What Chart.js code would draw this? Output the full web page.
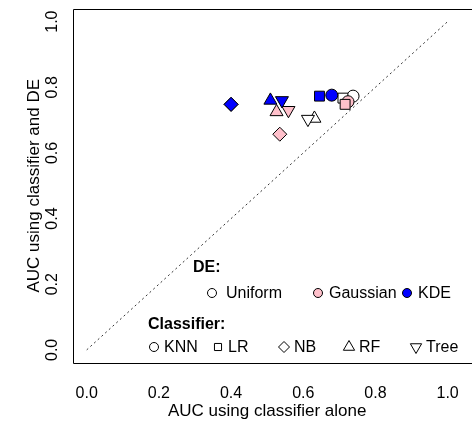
<!DOCTYPE html>
<html>
<head>
<meta charset="utf-8">
<script src="https://cdn.jsdelivr.net/npm/chart.js@4/dist/chart.umd.min.js"></script>
<style>
    html, body { margin: 0; padding: 0; background: #fff; }
    #aucChart { display: block; }
</style>
</head>
<body>
<canvas id="aucChart" width="472" height="423"></canvas>
<script>
// Data, one value per classifier
const classifiers = ['KNN', 'LR', 'NB', 'RF', 'Tree'];
const deNames = ['Uniform', 'Gaussian', 'KDE'];

const uniformAlone   = [0.738, 0.710, 0.400, 0.631, 0.613];
const uniformWithDE  = [0.773, 0.767, 0.748, 0.705, 0.703];
const gaussianAlone  = [0.724, 0.716, 0.535, 0.526, 0.559];
const gaussianWithDE = [0.756, 0.748, 0.657, 0.725, 0.730];
const kdeAlone       = [0.679, 0.645, 0.400, 0.509, 0.541];
const kdeWithDE      = [0.776, 0.773, 0.748, 0.760, 0.760];

const xTickValues = [0, 0.2, 0.4, 0.6, 0.8, 1.0];
const yTickValues = [0, 0.2, 0.4, 0.6, 0.8, 1.0];
const diagonal = [0, 1];

// Marker look per classifier / DE
const markerStyles = ['circle', 'rect', 'rectRot', 'triangle', 'triangle'];
const markerRotation = [0, 0, 0, 0, 180];
const markerRadius = [6, 7, 7, 7.5, 7.5];
const deColors = ['#ffffff', '#ffc0cb', '#0000ff'];

const FONT = "'Liberation Sans', Arial, Helvetica, sans-serif";

const toPoints = (xs, ys) => xs.map((v, i) => ({ x: v, y: ys[i] }));

const makeDataset = (label, xs, ys, color, order) => ({
    label: label,
    data: toPoints(xs, ys),
    backgroundColor: color,
    borderColor: '#000',
    borderWidth: 1,
    pointStyle: markerStyles,
    rotation: markerRotation,
    pointRadius: markerRadius,
    pointHoverRadius: markerRadius,
    order: order
});

// Draw a marker the same way Chart.js draws its points
const drawMarker = (ctx, style, x, y, r, rot, fill) => {
    ctx.fillStyle = fill;
    ctx.strokeStyle = '#000';
    ctx.lineWidth = 1;
    if (Chart.helpers && Chart.helpers.drawPoint) {
        Chart.helpers.drawPoint(ctx, { pointStyle: style, radius: r, rotation: rot, borderWidth: 1 }, x, y);
    } else {
        ctx.beginPath();
        ctx.arc(x, y, r, 0, Math.PI * 2);
        ctx.fill();
        ctx.stroke();
    }
};

const frameAndText = {
    id: 'frameAndText',
    afterDraw(chart) {
        const { ctx, chartArea: a, scales } = chart;
        ctx.save();

        // plot box (right edge falls outside the picture)
        ctx.strokeStyle = '#000';
        ctx.lineWidth = 1;
        ctx.beginPath();
        ctx.moveTo(chart.width, Math.round(a.top) + 0.5);
        ctx.lineTo(Math.round(a.left) + 0.5, Math.round(a.top) + 0.5);
        ctx.lineTo(Math.round(a.left) + 0.5, Math.round(a.bottom) + 0.5);
        ctx.lineTo(chart.width, Math.round(a.bottom) + 0.5);
        ctx.stroke();

        ctx.fillStyle = '#000';
        ctx.font = '16px ' + FONT;
        ctx.textAlign = 'center';
        ctx.textBaseline = 'middle';

        // y tick labels, rotated like R does
        yTickValues.forEach(v => {
            const py = scales.y.getPixelForValue(v);
            ctx.save();
            ctx.translate(53, py);
            ctx.rotate(-Math.PI / 2);
            ctx.fillText(v.toFixed(1), 0, 0);
            ctx.restore();
        });

        // axis titles, centred on the full 0..1 range
        ctx.font = '17px ' + FONT;
        const yMid = (scales.y.getPixelForValue(-0.04) + scales.y.getPixelForValue(1.04)) / 2;
        ctx.save();
        ctx.translate(34, yMid);
        ctx.rotate(-Math.PI / 2);
        ctx.fillText('AUC using classifier and DE', 0, 0);
        ctx.restore();
        ctx.fillText('AUC using classifier alone', scales.x.getPixelForValue(0.5), 411);

        // legend
        ctx.textAlign = 'left';
        ctx.font = 'bold 16px ' + FONT;
        ctx.fillText('DE:', 193, 268);
        ctx.fillText('Classifier:', 148, 325);

        ctx.font = '16px ' + FONT;
        const deX = [212, 318, 407];
        const deTextX = [226, 329, 418];
        deNames.forEach((name, i) => {
            drawMarker(ctx, 'circle', deX[i], 293, 4.5, 0, deColors[i]);
            ctx.fillStyle = '#000';
            ctx.fillText(name, deTextX[i], 294);
        });

        const clsX = [154, 218, 284, 349, 416];
        const legendRadius = [4.5, 5, 5.5, 6.5, 6.5];
        classifiers.forEach((name, i) => {
            drawMarker(ctx, markerStyles[i], clsX[i], 347, legendRadius[i], markerRotation[i], '#ffffff');
            ctx.fillStyle = '#000';
            ctx.fillText(name, clsX[i] + 10, 348);
        });

        ctx.restore();
    }
};

const initializeChart = () => {
    const ctx = document.getElementById('aucChart');
    return new Chart(ctx.getContext('2d'), {
        type: 'scatter',
        data: {
            datasets: [
                {
                    label: 'y = x',
                    data: toPoints(diagonal, diagonal),
                    showLine: true,
                    borderColor: '#333',
                    borderWidth: 1,
                    borderDash: [2, 3],
                    pointRadius: 0,
                    pointHoverRadius: 0,
                    order: 10
                },
                makeDataset('Uniform', uniformAlone, uniformWithDE, deColors[0], 3),
                makeDataset('Gaussian', gaussianAlone, gaussianWithDE, deColors[1], 2),
                makeDataset('KDE', kdeAlone, kdeWithDE, deColors[2], 1)
            ]
        },
        options: {
            responsive: false,
            animation: false,
            devicePixelRatio: 1,
            layout: { padding: { top: 6, left: 0, right: 0, bottom: 0 } },
            scales: {
                x: {
                    type: 'linear',
                    min: -0.038,
                    max: 1.035,
                    grid: { display: false },
                    border: { display: false },
                    afterBuildTicks: scale => {
                        scale.ticks = xTickValues.map(v => ({ value: v }));
                    },
                    afterFit: scale => { scale.height = 60; },
                    ticks: {
                        color: '#000',
                        padding: 13,
                        maxRotation: 0,
                        font: { family: FONT, size: 16 },
                        callback: v => Number(v).toFixed(1)
                    }
                },
                y: {
                    type: 'linear',
                    min: -0.04,
                    max: 1.04,
                    grid: { display: false },
                    border: { display: false },
                    afterBuildTicks: scale => {
                        scale.ticks = yTickValues.map(v => ({ value: v }));
                    },
                    afterFit: scale => { scale.width = 73; },
                    ticks: { display: false }
                }
            },
            plugins: {
                legend: { display: false },
                tooltip: { enabled: false }
            }
        },
        plugins: [frameAndText]
    });
};

document.addEventListener('DOMContentLoaded', () => {
    initializeChart();
});
</script>
</body>
</html>
